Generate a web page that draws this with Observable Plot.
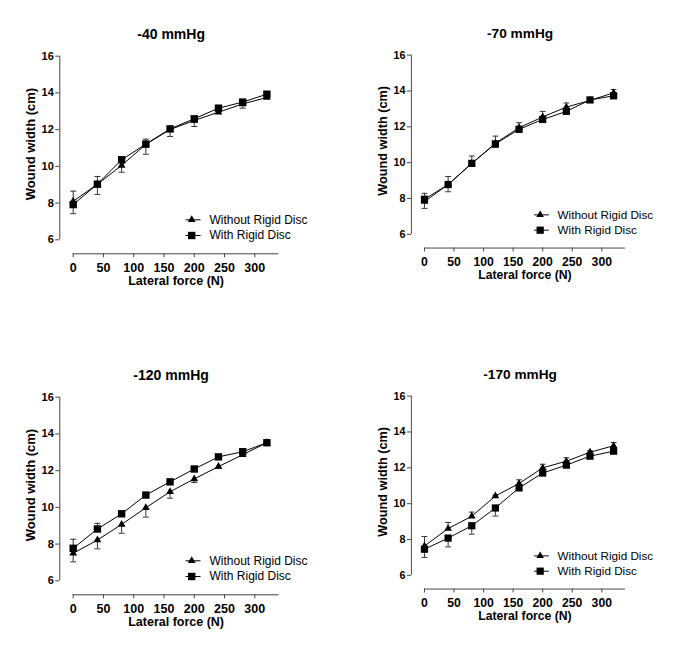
<!DOCTYPE html>
<html><head><meta charset="utf-8">
<script src="https://cdn.jsdelivr.net/npm/d3@7"></script>
<script src="https://cdn.jsdelivr.net/npm/@observablehq/plot@0.6"></script>
<style>
body{margin:0;background:#fff;}
#root{position:relative;width:685px;height:655px;background:#fff;}
.panel{position:absolute;}
</style></head><body><div id="root"></div>
<script>
// ---- data ----
const force = [0, 40, 80, 120, 160, 200, 240, 280, 320];
const xTicks = [0, 50, 100, 150, 200, 250, 300];
const yTicks = [6, 8, 10, 12, 14, 16];
const seriesNames = ["Without Rigid Disc", "With Rigid Disc"];
const pressures = ["-40 mmHg", "-70 mmHg", "-120 mmHg", "-170 mmHg"];

const without40 = [8.10, 9.03, 10.05, 11.20, 12.00, 12.50, 12.95, 13.40, 13.75];
const with40    = [7.92, 9.03, 10.36, 11.21, 12.04, 12.59, 13.17, 13.50, 13.93];
const withoutErr40 = [0.55, 0.42, 0.30, 0.28, 0.15, 0.15, 0.10, 0.10, 0.10];
const withErr40    = [0.50, 0.56, 0.68, 0.55, 0.41, 0.42, 0.20, 0.33, 0.10];

const without70 = [7.83, 8.78, 9.96, 11.08, 11.95, 12.55, 13.10, 13.47, 13.90];
const with70    = [7.96, 8.78, 9.96, 11.05, 11.86, 12.41, 12.86, 13.50, 13.73];
const withoutErr70 = [0.46, 0.45, 0.41, 0.40, 0.28, 0.31, 0.23, 0.08, 0.18];
const withErr70    = [0.51, 0.40, 0.15, 0.20, 0.10, 0.10, 0.10, 0.10, 0.10];

const without120 = [7.50, 8.22, 9.07, 9.98, 10.85, 11.55, 12.22, 12.87, 13.52];
const with120    = [7.77, 8.82, 9.65, 10.67, 11.39, 12.09, 12.75, 13.03, 13.52];
const withoutErr120 = [0.47, 0.48, 0.48, 0.51, 0.35, 0.20, 0.10, 0.10, 0.05];
const withErr120    = [0.49, 0.31, 0.10, 0.10, 0.05, 0.05, 0.05, 0.10, 0.05];

const without170 = [7.64, 8.61, 9.30, 10.43, 11.12, 12.00, 12.37, 12.87, 13.23];
const with170    = [7.46, 8.08, 8.77, 9.76, 10.88, 11.71, 12.15, 12.65, 12.93];
const withoutErr170 = [0.53, 0.34, 0.23, 0.05, 0.21, 0.20, 0.19, 0.08, 0.18];
const withErr170    = [0.46, 0.49, 0.47, 0.45, 0.10, 0.10, 0.10, 0.05, 0.05];

// error bar direction (+1 above, -1 below) per panel
const withoutErrDir = [1, 1, -1, 1];
const withErrDir    = [-1, -1, 1, -1];

// ---- symbols ----
const triSym = {draw(c) { const a = 7.8, h = a * Math.sqrt(3) / 2; c.moveTo(0, -h * 2 / 3); c.lineTo(a / 2, h / 3); c.lineTo(-a / 2, h / 3); c.closePath(); }};
const sqSym = {draw(c) { const s = 3.7; c.moveTo(-s, -s); c.lineTo(s, -s); c.lineTo(s, s); c.lineTo(-s, s); c.closePath(); }};
const capSym = {draw(c) { c.moveTo(-3, 0); c.lineTo(3, 0); }};
const legLineSym = {draw(c) { c.moveTo(-7.5, 0); c.lineTo(7.5, 0); }};
const syms = [triSym, sqSym];

const panels = [
  {title: pressures[0], w: without40, s: with40, we: withoutErr40, se: withErr40, left: 0, top: 10},
  {title: pressures[1], w: without70, s: with70, we: withoutErr70, se: withErr70, left: 353, top: 10},
  {title: pressures[2], w: without120, s: with120, we: withoutErr120, se: withErr120, left: 0, top: 351},
  {title: pressures[3], w: without170, s: with170, we: withoutErr170, se: withErr170, left: 353, top: 351}
];

const root = document.getElementById("root");
const font = "Liberation Sans, Arial, Helvetica, sans-serif";

panels.forEach((p, k) => {
  const rows = [];
  force.forEach((f, i) => {
    rows.push({x: f, y: p.w[i], err: p.we[i] * withoutErrDir[k], series: seriesNames[0]});
    rows.push({x: f, y: p.s[i], err: p.se[i] * withErrDir[k], series: seriesNames[1]});
  });
  const legendMarks = seriesNames.flatMap((name, i) => [
    Plot.dot([name], {frameAnchor: "bottom-left", dx: 119.8, dy: -20 + i * 15.7, symbol: legLineSym, r: 3, stroke: "black", strokeWidth: 1, fill: "none"}),
    Plot.dot([name], {frameAnchor: "bottom-left", dx: 118.5, dy: -20 + i * 15.7, symbol: syms[i], r: 3, fill: "black", stroke: "none"}),
    Plot.text([name], {frameAnchor: "bottom-left", dx: 136.3, dy: -20 + i * 15.7, textAnchor: "start", lineAnchor: "middle", fontSize: 12, fill: "black"})
  ]);
  const chart = Plot.plot({
    width: 340, height: 290,
    marginLeft: 72.7, marginRight: 61.5, marginTop: 45.7, marginBottom: 60.7,
    style: {fontFamily: font, color: "black", background: "white", overflow: "visible"},
    x: {domain: [0, 340]},
    y: {domain: [6, 16]},
    marks: [
      Plot.ruleX([0], {y1: 6, y2: 16, dx: -13.4, stroke: "#444"}),
      Plot.ruleY([6], {x1: 0, x2: 340, dy: 14, stroke: "#444"}),
      Plot.axisY(yTicks, {dx: -13.4, tickSize: 4, tickPadding: 2, fontSize: 11, fontWeight: "bold", stroke: "#444", label: null}),
      Plot.axisX(xTicks, {dy: 14, tickSize: 4, tickPadding: 5, fontSize: 12.5, fontWeight: "bold", stroke: "#444", label: null}),
      Plot.text(["Wound width (cm)"], {frameAnchor: "left", dx: -42.7, dy: -4, rotate: -90, textAnchor: "middle", lineAnchor: "middle", fontSize: 13, fontWeight: "bold", fill: "black"}),
      Plot.text(["Lateral force (N)"], {frameAnchor: "bottom", dy: 41.4, textAnchor: "middle", lineAnchor: "middle", fontSize: 12.5, fontWeight: "bold", fill: "black"}),
      Plot.text([p.title], {frameAnchor: "top", dx: -5, dy: -21.5, textAnchor: "middle", lineAnchor: "middle", fontSize: 14, fontWeight: "bold", fill: "black"}),
      Plot.ruleX(rows, {x: "x", y1: "y", y2: d => d.y + d.err, stroke: "#333", strokeWidth: 1}),
      Plot.dot(rows, {x: "x", y: d => d.y + d.err, symbol: capSym, r: 3, stroke: "#333", strokeWidth: 1, fill: "none"}),
      Plot.line(rows, {x: "x", y: "y", z: "series", stroke: "black", strokeWidth: 1}),
      Plot.dot(rows.filter(d => d.series === seriesNames[0]), {x: "x", y: "y", symbol: triSym, r: 3, fill: "black", stroke: "none"}),
      Plot.dot(rows.filter(d => d.series === seriesNames[1]), {x: "x", y: "y", symbol: sqSym, r: 3, fill: "black", stroke: "none"}),
      ...legendMarks
    ]
  });
  const div = document.createElement("div");
  div.className = "panel";
  div.style.left = p.left + "px";
  div.style.top = p.top + "px";
  div.appendChild(chart);
  root.appendChild(div);
});
</script></body></html>
